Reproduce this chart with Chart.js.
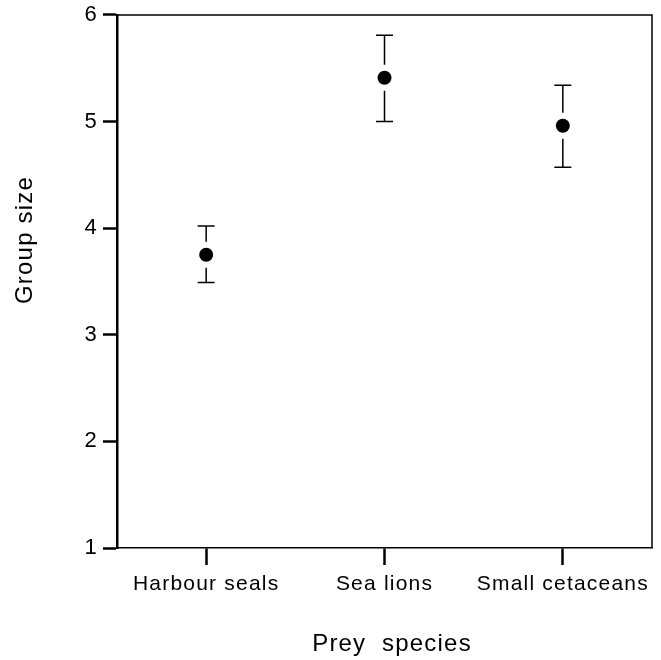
<!DOCTYPE html>
<html>
<head>
<meta charset="utf-8">
<script src="https://cdn.jsdelivr.net/npm/chart.js@4"></script>
<style>
  body { margin: 0; background: #fff; }
</style>
</head>
<body>
<canvas id="myChart" width="661" height="660"></canvas>
<script>
// prey categories and group size (mean with upper / lower error bar ends)
let categories = ["Harbour seals", "Sea lions", "Small cetaceans"]
let means = [3.75, 5.41, 4.96]
let upper = [4.02, 5.81, 5.34]
let lower = [3.49, 5.00, 4.57]
let yTicks = [1, 2, 3, 4, 5, 6]
let xTitle = "Prey  species"
let yTitle = "Group size"

const FONT = "'Liberation Sans', Arial, Helvetica, sans-serif"
const SPACING = "1.2px"

// slightly wider text like the original figure
const spacingPlugin = {
    id: "spacing",
    beforeUpdate(chart) { chart.ctx.letterSpacing = SPACING },
    beforeDraw(chart) { chart.ctx.letterSpacing = SPACING }
}

// thin frame on top and right, axis titles placed off-centre like the original
const framePlugin = {
    id: "frame",
    afterDraw(chart) {
        const {ctx, chartArea: a} = chart
        ctx.save()
        ctx.strokeStyle = "#000"
        ctx.lineWidth = 1.5
        ctx.beginPath()
        ctx.moveTo(a.left, a.top)
        ctx.lineTo(a.right, a.top)
        ctx.lineTo(a.right, a.bottom)
        ctx.stroke()

        ctx.fillStyle = "#000"
        ctx.font = "24px " + FONT
        ctx.textAlign = "center"
        ctx.textBaseline = "middle"
        ctx.fillText(xTitle, 392, 644)

        ctx.translate(25, 240)
        ctx.rotate(-Math.PI / 2)
        ctx.fillText(yTitle, 0, 0)
        ctx.restore()
    }
}

// error bars with a small gap around each point
const errorPlugin = {
    id: "errorBars",
    afterDatasetsDraw(chart) {
        const {ctx, scales: {x, y}} = chart
        ctx.save()
        ctx.strokeStyle = "#000"
        ctx.lineWidth = 1.5
        for (let i = 0; i < categories.length; i++) {
            let px = x.getPixelForValue(i)
            let pm = y.getPixelForValue(means[i])
            let pt = y.getPixelForValue(upper[i])
            let pb = y.getPixelForValue(lower[i])
            let gap = 13, cap = 8.5
            ctx.beginPath()
            ctx.moveTo(px, pt); ctx.lineTo(px, pm - gap)
            ctx.moveTo(px, pm + gap); ctx.lineTo(px, pb)
            ctx.moveTo(px - cap, pt); ctx.lineTo(px + cap, pt)
            ctx.moveTo(px - cap, pb); ctx.lineTo(px + cap, pb)
            ctx.stroke()
        }
        ctx.restore()
    }
}

new Chart("myChart", {
    type: "line",
    data: {
        labels: categories,
        datasets: [{
            data: means,
            showLine: false,
            pointRadius: 7,
            pointBackgroundColor: "#000",
            pointBorderColor: "#000",
            pointBorderWidth: 0
        }]
    },
    options: {
        responsive: false,
        animation: false,
        layout: {padding: {top: 13, right: 9, left: 0, bottom: 0}},
        plugins: {legend: {display: false}, tooltip: {enabled: false}},
        scales: {
            x: {
                type: "category",
                offset: true,
                border: {display: true, color: "#000", width: 1.5},
                grid: {
                    offset: false,
                    drawOnChartArea: false,
                    drawTicks: true,
                    tickLength: 17,
                    tickWidth: 2.5,
                    tickColor: "#000"
                },
                ticks: {
                    color: "#000",
                    padding: 7,
                    autoSkip: false,
                    maxRotation: 0,
                    font: {family: FONT, size: 21}
                },
                title: {display: false},
                afterFit(scale) { scale.height = 112 }
            },
            y: {
                min: 1,
                max: 6,
                afterBuildTicks(scale) { scale.ticks = yTicks.map(v => ({value: v})) },
                border: {display: true, color: "#000", width: 2.5},
                grid: {
                    drawOnChartArea: false,
                    drawTicks: true,
                    tickLength: 14,
                    tickWidth: 2.5,
                    tickColor: "#000"
                },
                ticks: {
                    color: "#000",
                    padding: 5,
                    font: {family: FONT, size: 22, lineHeight: 0.9}
                },
                title: {display: false},
                afterFit(scale) { scale.width = 117 }
            }
        }
    },
    plugins: [spacingPlugin, errorPlugin, framePlugin]
});
</script>
</body>
</html>
